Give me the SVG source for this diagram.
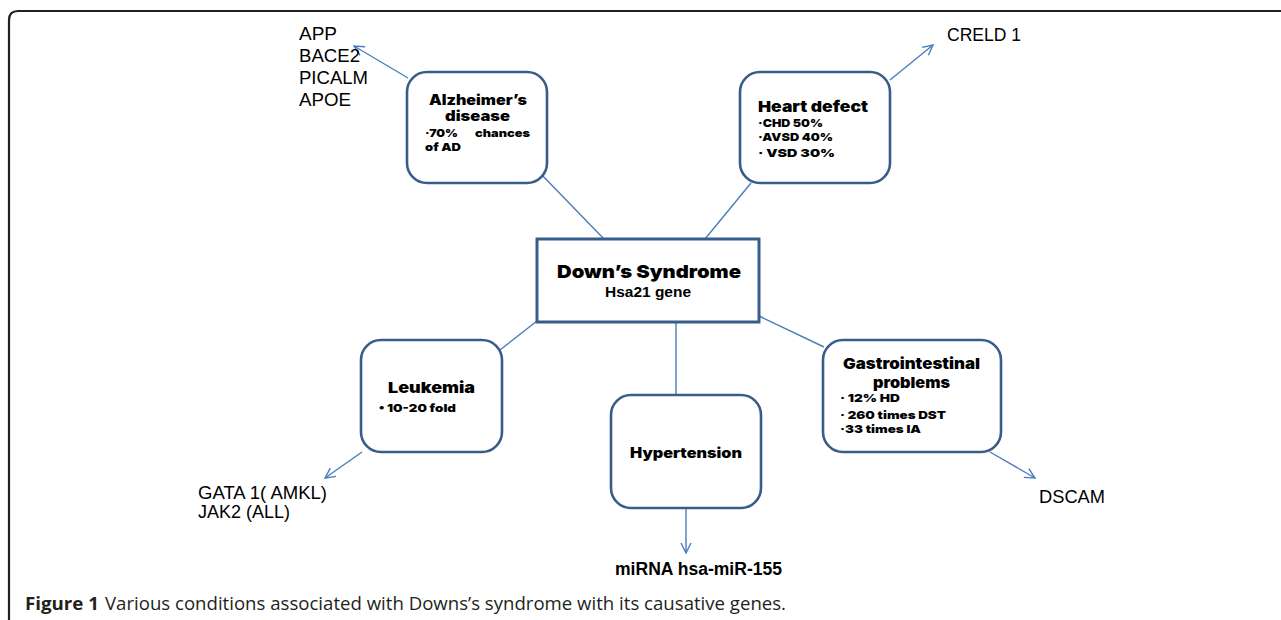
<svg xmlns="http://www.w3.org/2000/svg" width="1281" height="620" viewBox="0 0 1281 620">
<defs>
<marker id="arr" viewBox="0 0 12 12" refX="11" refY="6" markerWidth="12" markerHeight="12" markerUnits="userSpaceOnUse" orient="auto">
<path d="M1,1 L11,6 L1,11" fill="none" stroke="#4a7ebb" stroke-width="1.4"/>
</marker>
</defs>
<style>
.frame{fill:none;stroke:#231f20;stroke-width:2.2}
.box{fill:#fff;stroke:#385d8a;stroke-width:2.6}
.ln{fill:none;stroke:#4a7ebb;stroke-width:1.4}
.hv{font-family:Inter,"DejaVu Sans",sans-serif;font-weight:900;fill:#000}
.sm{font-family:Inter,"DejaVu Sans",sans-serif;font-weight:900;font-size:11px;fill:#000}
.lb{font-family:"Liberation Sans",Arial,sans-serif;font-size:18px;fill:#000}
.cap{font-family:"Open Sans","Liberation Sans",sans-serif;font-size:18px;fill:#231f20}
</style>
<rect width="1281" height="620" fill="#fff"/>
<path class="frame" d="M9,620 L9,20 Q9,11 18,11 L1281,11"/>
<g id="connectors">
<line class="ln" x1="604" y1="239" x2="539" y2="172"/>
<line class="ln" x1="408" y1="78" x2="354" y2="46" marker-end="url(#arr)"/>
<line class="ln" x1="705" y1="239" x2="751" y2="183"/>
<line class="ln" x1="890" y1="80" x2="933" y2="45" marker-end="url(#arr)"/>
<line class="ln" x1="537" y1="321" x2="500" y2="350"/>
<line class="ln" x1="676" y1="322" x2="676" y2="395"/>
<line class="ln" x1="759" y1="316" x2="824" y2="347"/>
<line class="ln" x1="362" y1="452" x2="325" y2="478" marker-end="url(#arr)"/>
<line class="ln" x1="686" y1="508" x2="686" y2="553" marker-end="url(#arr)"/>
<line class="ln" x1="990" y1="452" x2="1035" y2="478" marker-end="url(#arr)"/>
</g>
<g id="alzheimer">
<rect class="box" x="407" y="72" width="140" height="111" rx="20"/>
<text class="hv" x="429" y="105" font-size="14" textLength="98" lengthAdjust="spacingAndGlyphs">Alzheimer’s</text>
<text class="hv" x="445" y="121" font-size="14" textLength="65" lengthAdjust="spacingAndGlyphs">disease</text>
<text class="sm" x="425" y="137" textLength="33" lengthAdjust="spacingAndGlyphs">·70%</text>
<text class="sm" x="475" y="137" textLength="55" lengthAdjust="spacingAndGlyphs">chances</text>
<text class="sm" x="425" y="151" textLength="36" lengthAdjust="spacingAndGlyphs">of AD</text>
</g>
<g id="genes-ad">
<text class="lb" x="299" y="40" textLength="38" lengthAdjust="spacingAndGlyphs">APP</text>
<text class="lb" x="299" y="62" textLength="61" lengthAdjust="spacingAndGlyphs">BACE2</text>
<text class="lb" x="299" y="84" textLength="69" lengthAdjust="spacingAndGlyphs">PICALM</text>
<text class="lb" x="299" y="106" textLength="52" lengthAdjust="spacingAndGlyphs">APOE</text>
</g>
<g id="heart">
<rect class="box" x="740" y="72" width="150" height="111" rx="20"/>
<text class="hv" x="758" y="112" font-size="15" textLength="110" lengthAdjust="spacingAndGlyphs">Heart  defect</text>
<text class="sm" x="758" y="127" textLength="65" lengthAdjust="spacingAndGlyphs">·CHD 50%</text>
<text class="sm" x="758" y="141" textLength="75" lengthAdjust="spacingAndGlyphs">·AVSD 40%</text>
<text class="sm" x="758" y="157" textLength="77" lengthAdjust="spacingAndGlyphs">· VSD 30%</text>
</g>
<g id="creld">
<text class="lb" x="947" y="41" textLength="74" lengthAdjust="spacingAndGlyphs">CRELD 1</text>
</g>
<g id="downs">
<rect x="537" y="239" width="222" height="83" fill="#fff" stroke="#385d8a" stroke-width="3"/>
<text class="hv" x="557" y="278" font-size="18" textLength="184" lengthAdjust="spacingAndGlyphs">Down’s  Syndrome</text>
<text x="605" y="297" font-family="'Liberation Sans',Arial,sans-serif" font-weight="bold" font-size="15" textLength="86" lengthAdjust="spacingAndGlyphs">Hsa21 gene</text>
</g>
<g id="leukemia">
<rect class="box" x="361" y="340" width="141" height="112" rx="20"/>
<text class="hv" x="388" y="393" font-size="15" textLength="87" lengthAdjust="spacingAndGlyphs">Leukemia</text>
<text class="sm" x="379" y="412" textLength="77" lengthAdjust="spacingAndGlyphs">• 10-20 fold</text>
</g>
<g id="gata">
<text class="lb" x="198" y="499" font-size="16" textLength="129" lengthAdjust="spacingAndGlyphs">GATA 1( AMKL)</text>
<text class="lb" x="198" y="518" font-size="16" textLength="92" lengthAdjust="spacingAndGlyphs">JAK2 (ALL)</text>
</g>
<g id="hypertension">
<rect class="box" x="611" y="395" width="150" height="113" rx="20"/>
<text class="hv" x="630" y="458" font-size="14" textLength="112" lengthAdjust="spacingAndGlyphs">Hypertension</text>
</g>
<g id="mirna">
<text class="lb" x="615" y="575" font-weight="bold" textLength="167" lengthAdjust="spacingAndGlyphs">miRNA hsa-miR-155</text>
</g>
<g id="gastro">
<rect class="box" x="823" y="340" width="178" height="112" rx="20"/>
<text class="hv" x="843" y="369" font-size="15" textLength="137" lengthAdjust="spacingAndGlyphs">Gastrointestinal</text>
<text class="hv" x="873" y="388" font-size="15" textLength="77" lengthAdjust="spacingAndGlyphs">problems</text>
<text class="sm" x="840" y="402" textLength="60" lengthAdjust="spacingAndGlyphs">· 12% HD</text>
<text class="sm" x="840" y="419" textLength="106" lengthAdjust="spacingAndGlyphs">· 260  times DST</text>
<text class="sm" x="840" y="433" textLength="81" lengthAdjust="spacingAndGlyphs">·33 times IA</text>
</g>
<g id="dscam">
<text class="lb" x="1039" y="503" textLength="66" lengthAdjust="spacingAndGlyphs">DSCAM</text>
</g>
<g id="caption">
<text class="cap" x="25" y="610" font-weight="bold" textLength="74" lengthAdjust="spacingAndGlyphs">Figure 1</text>
<text class="cap" x="105" y="610" textLength="681" lengthAdjust="spacingAndGlyphs">Various conditions associated with Downs’s syndrome with its causative genes.</text>
</g>
</svg>
